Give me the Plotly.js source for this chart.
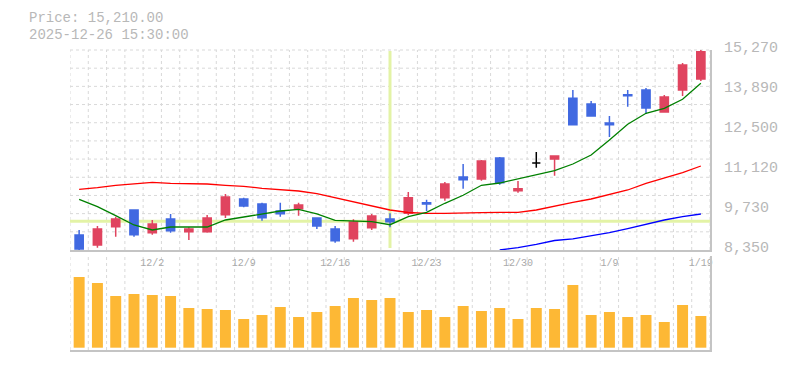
<!DOCTYPE html>
<html>
<head>
<meta charset="utf-8">
<script src="https://cdn.plot.ly/plotly-3.0.1.min.js"></script>
<style>html,body{margin:0;padding:0;background:#fff;}#chart{width:785px;height:370px;}</style>
</head>
<body>
<div id="chart"></div>
<script>
// ---- data ----
const dates = ['11/26','11/27','11/28','12/1','12/2','12/3','12/4','12/5','12/8','12/9',
  '12/10','12/11','12/12','12/15','12/16','12/17','12/18','12/19','12/22','12/23',
  '12/24','12/25','12/26','12/29','12/30','1/5','1/6','1/7','1/8','1/9',
  '1/13','1/14','1/15','1/16','1/19'];
const tickLabels = ['12/2','12/9','12/16','12/23','12/30','1/9','1/19'];
const openP  = [8869,8523,9156,9734,8949,9423,8983,8983,9571,10115,9942,9699,9779,9457,9077,8741,9122,9423,9620,9987,10160,10876,10807,11533,10402,11360,11499,13599,13402,12744,13723,13886,13125,13886,14267];
const highP  = [9042,9180,9502,9734,9388,9596,9135,9561,10288,10160,9987,9987,9987,9457,9180,9412,9596,9620,10357,10090,10703,11326,11464,11568,10737,11741,11602,13886,13505,12986,13886,13955,13713,14820,15270];
const lowP   = [8350,8430,8810,8810,8879,8949,8696,8949,9457,9827,9364,9502,9537,9077,8603,8637,9042,9135,9551,9699,10056,10471,10748,10609,10333,11198,10921,12685,12986,12260,13308,13056,13125,13678,14197];
const closeP = [8385,9077,9423,8879,9250,9018,9077,9457,10184,9872,9468,9606,9907,9180,8672,9319,9526,9329,10160,9942,10634,10782,11429,10679,10471,11360,11602,12685,12986,12685,13689,13263,13644,14751,15210];
const ma5  = [10104,9848,9537,9215,9042,9146,9146,9146,9388,9492,9571,9699,9758,9596,9378,9353,9329,9225,9502,9654,9966,10243,10589,10668,10807,10945,11094,11326,11637,12156,12699,13080,13253,13564,14118];
const ma25 = [10450,10506,10589,10644,10692,10658,10658,10634,10589,10554,10485,10450,10391,10298,10160,10021,9872,9734,9648,9620,9620,9641,9641,9654,9654,9734,9872,10000,10115,10263,10426,10658,10831,11024,11256];
const ma75 = [null,null,null,null,null,null,null,null,null,null,null,null,null,null,null,null,null,null,null,null,null,null,null,8350,8430,8547,8679,8738,8834,8949,9087,9250,9388,9502,9596];
const volume = [707,647,517,537,527,517,397,387,377,287,327,407,307,357,417,497,477,497,357,377,307,417,367,397,287,397,387,627,327,357,307,327,257,427,317];
const cursorIndex = 17;
const cursorPrice = 9345;
const headerPrice = 'Price: 15,210.00';
const headerTime = '2025-12-26 15:30:00';

// ---- build ----
const idx = dates.map((d,i)=>i);
const pick = (arr, cond) => arr.map((v,i)=> cond(i) ? v : null);
const isDoji = i => openP[i] === closeP[i];
const RED = '#e0445f', BLUE = '#4169e1', GRID = '#d9d9d9', AX = '#c4c4c4', TXT = '#b8b8b8';
const FONT = 'Liberation Mono, DejaVu Sans Mono, monospace';

const minP = Math.min(...lowP), maxP = Math.max(...highP);
const yTicks = [0,1,2,3,4,5].map(k => minP + (maxP-minP)*k/5);
const yText = yTicks.map(v => (Math.round(v/10)*10).toLocaleString('en-US'));
const xTicks = tickLabels.map(t => dates.indexOf(t));

const traces = [
  {type:'candlestick', x: idx, open: pick(openP,i=>!isDoji(i)), high: pick(highP,i=>!isDoji(i)),
   low: pick(lowP,i=>!isDoji(i)), close: pick(closeP,i=>!isDoji(i)), xaxis:'x', yaxis:'y',
   increasing:{line:{color:RED,width:1.5},fillcolor:RED},
   decreasing:{line:{color:BLUE,width:1.5},fillcolor:BLUE}, hoverinfo:'skip'},
  {type:'candlestick', x: idx, open: pick(openP,isDoji), high: pick(highP,isDoji),
   low: pick(lowP,isDoji), close: pick(closeP,isDoji), xaxis:'x', yaxis:'y',
   increasing:{line:{color:'#000',width:1.5},fillcolor:'#000'},
   decreasing:{line:{color:'#000',width:1.5},fillcolor:'#000'}, hoverinfo:'skip'},
  {type:'scatter', mode:'lines', x: idx, y: ma25, line:{color:'#ff0000',width:1.3}, hoverinfo:'skip'},
  {type:'scatter', mode:'lines', x: idx, y: ma75, line:{color:'#0000ff',width:1.3}, hoverinfo:'skip'},
  {type:'scatter', mode:'lines', x: idx, y: ma5, line:{color:'#008000',width:1.3}, hoverinfo:'skip'},
  {type:'bar', x: idx, y: volume, xaxis:'x2', yaxis:'y2', width:0.6, marker:{color:'#fdb835'}, hoverinfo:'skip'}
];

const shapes = [];
for (let i=0;i<=dates.length;i++){
  shapes.push({type:'line', layer:'below', xref:'x', yref:'y domain', x0:i-0.5, x1:i-0.5, y0:0, y1:1,
    line:{color:GRID,width:1,dash:'3px,3px'}});
  shapes.push({type:'line', layer:'below', xref:'x2', yref:'y2 domain', x0:i-0.5, x1:i-0.5, y0:0, y1:1,
    line:{color:GRID,width:1,dash:'3px,3px'}});
}
for (let k=1;k<=11;k++){
  shapes.push({type:'line', layer:'below', xref:'paper', yref:'y domain', x0:0, x1:1, y0:k/11, y1:k/11,
    line:{color:GRID,width:1,dash:'3px,3px'}});
}
shapes.push({type:'line', layer:'below', xref:'x', yref:'y domain', x0:cursorIndex, x1:cursorIndex, y0:0.01, y1:0.995,
  line:{color:'#e3f3a6',width:3}});
shapes.push({type:'line', layer:'below', xref:'paper', yref:'y', x0:0, x1:1, y0:cursorPrice, y1:cursorPrice,
  line:{color:'#e3f3a6',width:3}});

const layout = {
  width:785, height:370, margin:{l:70,r:75,t:50,b:20},
  paper_bgcolor:'#fff', plot_bgcolor:'#fff', showlegend:false, boxgap:0.36,
  font:{family:FONT, color:TXT},
  xaxis:{domain:[0,1], anchor:'y', range:[-0.5, dates.length-0.5], tickmode:'array', tickvals:xTicks, ticktext:tickLabels,
    showgrid:false, zeroline:false, showline:true, linecolor:AX, linewidth:2, ticks:'',
    tickfont:{family:FONT,size:10,color:'#aaaaaa'}, ticklabelstandoff:2, rangeslider:{visible:false}, fixedrange:true},
  yaxis:{domain:[1/3,1], anchor:'x', side:'right', range:[minP,maxP], tickmode:'array', tickvals:yTicks, ticktext:yText,
    showgrid:false, zeroline:false, showline:true, linecolor:AX, linewidth:2, ticks:'',
    tickfont:{family:FONT,size:15,color:TXT}, ticklabelstandoff:9, ticklabelshift:-3, fixedrange:true},
  xaxis2:{domain:[0,1], anchor:'y2', matches:'x', showticklabels:false, showgrid:false, zeroline:false,
    showline:true, linecolor:AX, linewidth:2, ticks:''},
  yaxis2:{domain:[0,0.3133], anchor:'x2', side:'right', range:[-23,917], showticklabels:false, showgrid:false,
    zeroline:false, showline:true, linecolor:AX, linewidth:2, ticks:''},
  shapes: shapes,
  annotations:[
    {xref:'paper', yref:'paper', x:-0.066, y:(350-18)/300, xanchor:'left', yanchor:'middle', showarrow:false,
     borderpad:0, text:headerPrice, font:{family:FONT,size:14,color:TXT}},
    {xref:'paper', yref:'paper', x:-0.066, y:(350-35)/300, xanchor:'left', yanchor:'middle', showarrow:false,
     borderpad:0, text:headerTime, font:{family:FONT,size:14,color:TXT}}
  ]
};
Plotly.newPlot('chart', traces, layout, {staticPlot:true, displayModeBar:false});
</script>
</body>
</html>
